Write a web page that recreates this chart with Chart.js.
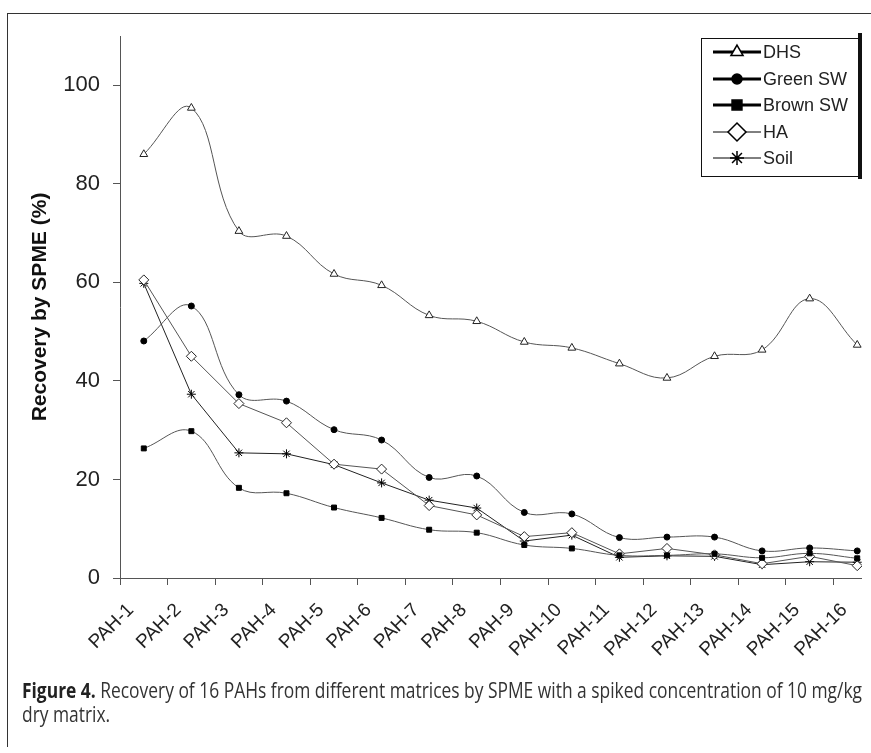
<!DOCTYPE html>
<html><head><meta charset="utf-8">
<script src="https://cdn.jsdelivr.net/npm/chart.js@4/dist/chart.umd.min.js"></script>
<style>
html,body{margin:0;padding:0;background:#fff;width:871px;height:753px;overflow:hidden;}
#frame{position:absolute;left:7px;top:13px;width:900px;height:734px;border-left:1px solid #333;border-top:1px solid #333;box-sizing:border-box;}
#clip{position:absolute;left:0;top:0;width:862px;height:680px;overflow:hidden;}
#wrap{position:absolute;left:0;top:0;width:890px;height:680px;}
#cap{position:absolute;left:22px;top:677px;white-space:nowrap;font-family:"Open Sans","Noto Sans",sans-serif;font-size:22px;line-height:24px;color:#333;transform-origin:0 0;}
#cap b{color:#222;font-weight:700;}
</style></head>
<body>
<div id="frame"></div>
<div id="clip"><div id="wrap"><canvas id="c"></canvas></div></div>
<div id="cap"><span id="l1"><b>Figure 4.</b> Recovery of 16 PAHs from different matrices by SPME with a spiked concentration of 10 mg/kg</span><br>dry matrix.</div>
<script>
const categories = ["PAH-1","PAH-2","PAH-3","PAH-4","PAH-5","PAH-6","PAH-7","PAH-8","PAH-9","PAH-10","PAH-11","PAH-12","PAH-13","PAH-14","PAH-15","PAH-16"];
const dhs     = [86.0, 95.4, 70.4, 69.4, 61.7, 59.4, 53.3, 52.1, 47.9, 46.7, 43.5, 40.6, 45.0, 46.3, 56.7, 47.3];
const greenSW = [48.1, 55.2, 37.2, 35.9, 30.1, 28.0, 20.4, 20.7, 13.3, 13.0, 8.2, 8.3, 8.3, 5.5, 6.1, 5.5];
const brownSW = [26.3, 29.8, 18.3, 17.2, 14.3, 12.2, 9.8, 9.2, 6.7, 6.0, 4.6, 4.6, 4.9, 4.1, 5.0, 4.0];
const ha      = [60.5, 45.0, 35.4, 31.5, 23.1, 22.1, 14.7, 12.8, 8.4, 9.2, 4.9, 6.0, 4.7, 2.9, 4.4, 2.5];
const soil    = [59.8, 37.3, 25.4, 25.2, 23.0, 19.3, 15.8, 14.2, 7.5, 8.7, 4.2, 4.5, 4.4, 2.7, 3.3, 3.2];
const seriesNames = ["DHS", "Green SW", "Brown SW", "HA", "Soil"];
const yTicks = [0, 20, 40, 60, 80, 100];
const yTitle = "Recovery by SPME (%)";

// fit caption first line to the figure width
(function(){
  const cap = document.getElementById('cap');
  const w = document.getElementById('l1').getBoundingClientRect().width;
  cap.style.transform = 'scaleX(' + (840 / w) + ')';
})();

const FONT = '"Liberation Sans", Arial, sans-serif';

const legendPlugin = {
  id: 'boxLegend',
  afterDraw(chart) {
    const ctx = chart.ctx;
    ctx.save();
    ctx.fillStyle = '#fff';
    ctx.fillRect(701, 38, 158, 138);
    ctx.strokeStyle = '#111';
    ctx.lineWidth = 1;
    ctx.strokeRect(701.5, 38.5, 158, 138);
    ctx.fillStyle = '#111';
    ctx.fillRect(858, 33, 6, 146);
    const rows = [52, 79, 105, 132, 158];
    chart.data.datasets.forEach((ds, i) => {
      const y = rows[i];
      ctx.strokeStyle = '#000';
      ctx.lineWidth = ds.legendLineWidth;
      ctx.beginPath(); ctx.moveTo(713, y); ctx.lineTo(761, y); ctx.stroke();
      ctx.fillStyle = ds.pointBackgroundColor;
      ctx.strokeStyle = '#000';
      ctx.lineWidth = 1.5;
      Chart.helpers.drawPoint(ctx, {pointStyle: ds.pointStyle, radius: ds.legendRadius, borderWidth: 1.5, rotation: 0}, 737, y);
      ctx.fillStyle = '#222';
      ctx.font = '18px ' + FONT;
      ctx.textBaseline = 'middle';
      ctx.textAlign = 'left';
      ctx.fillText(ds.label, 763, y + 1);
    });
    ctx.restore();
  }
};

new Chart(document.getElementById('c'), {
  type: 'line',
  data: {
    labels: categories,
    datasets: [
      {label: seriesNames[0], data: dhs, borderColor: '#555', borderWidth: 1, tension: 0.4,
       pointStyle: 'triangle', pointRadius: 4.5, pointBackgroundColor: '#fff', pointBorderColor: '#222', pointBorderWidth: 1,
       legendLineWidth: 3, legendRadius: 7},
      {label: seriesNames[1], data: greenSW, borderColor: '#555', borderWidth: 1, tension: 0.4,
       pointStyle: 'circle', pointRadius: 3, pointBackgroundColor: '#000', pointBorderColor: '#000', pointBorderWidth: 1,
       legendLineWidth: 3, legendRadius: 5},
      {label: seriesNames[2], data: brownSW, borderColor: '#555', borderWidth: 1, tension: 0.4,
       pointStyle: 'rect', pointRadius: 3.5, pointBackgroundColor: '#000', pointBorderColor: '#000', pointBorderWidth: 1,
       legendLineWidth: 3, legendRadius: 7},
      {label: seriesNames[3], data: ha, borderColor: '#555', borderWidth: 1, tension: 0,
       pointStyle: 'rectRot', pointRadius: 5, pointBackgroundColor: '#fff', pointBorderColor: '#222', pointBorderWidth: 1,
       legendLineWidth: 1, legendRadius: 9},
      {label: seriesNames[4], data: soil, borderColor: '#222', borderWidth: 1, tension: 0,
       pointStyle: 'star', pointRadius: 4.5, pointBackgroundColor: '#000', pointBorderColor: '#000', pointBorderWidth: 1,
       legendLineWidth: 1, legendRadius: 7}
    ]
  },
  options: {
    responsive: true,
    maintainAspectRatio: false,
    animation: false,
    devicePixelRatio: 1,
    layout: {padding: {left: 28, top: 36, right: 9, bottom: 0}},
    plugins: {legend: {display: false}, tooltip: {enabled: false}},
    scales: {
      x: {
        type: 'category',
        offset: true,
        afterFit: (s) => { s.height = 102; },
        grid: {offset: true, drawOnChartArea: false, tickLength: 7, color: '#555', lineWidth: 1},
        border: {color: '#555', width: 1},
        ticks: {autoSkip: false, minRotation: 45, maxRotation: 45, padding: 14, labelOffset: -13,
                color: '#222', font: {family: FONT, size: 19}}
      },
      y: {
        min: 0, max: 110,
        afterFit: (s) => { s.width = 92; },
        afterBuildTicks: (s) => { s.ticks = yTicks.map(v => ({value: v})); },
        grid: {drawOnChartArea: false, tickLength: 7, color: '#555', lineWidth: 1},
        border: {color: '#555', width: 1},
        ticks: {stepSize: 20, includeBounds: false, padding: 13, color: '#222', font: {family: FONT, size: 22}},
        title: {display: true, text: yTitle, color: '#111', padding: 0, font: {family: FONT, size: 21, weight: 'bold'}}
      }
    }
  },
  plugins: [legendPlugin]
});
</script>
</body></html>
